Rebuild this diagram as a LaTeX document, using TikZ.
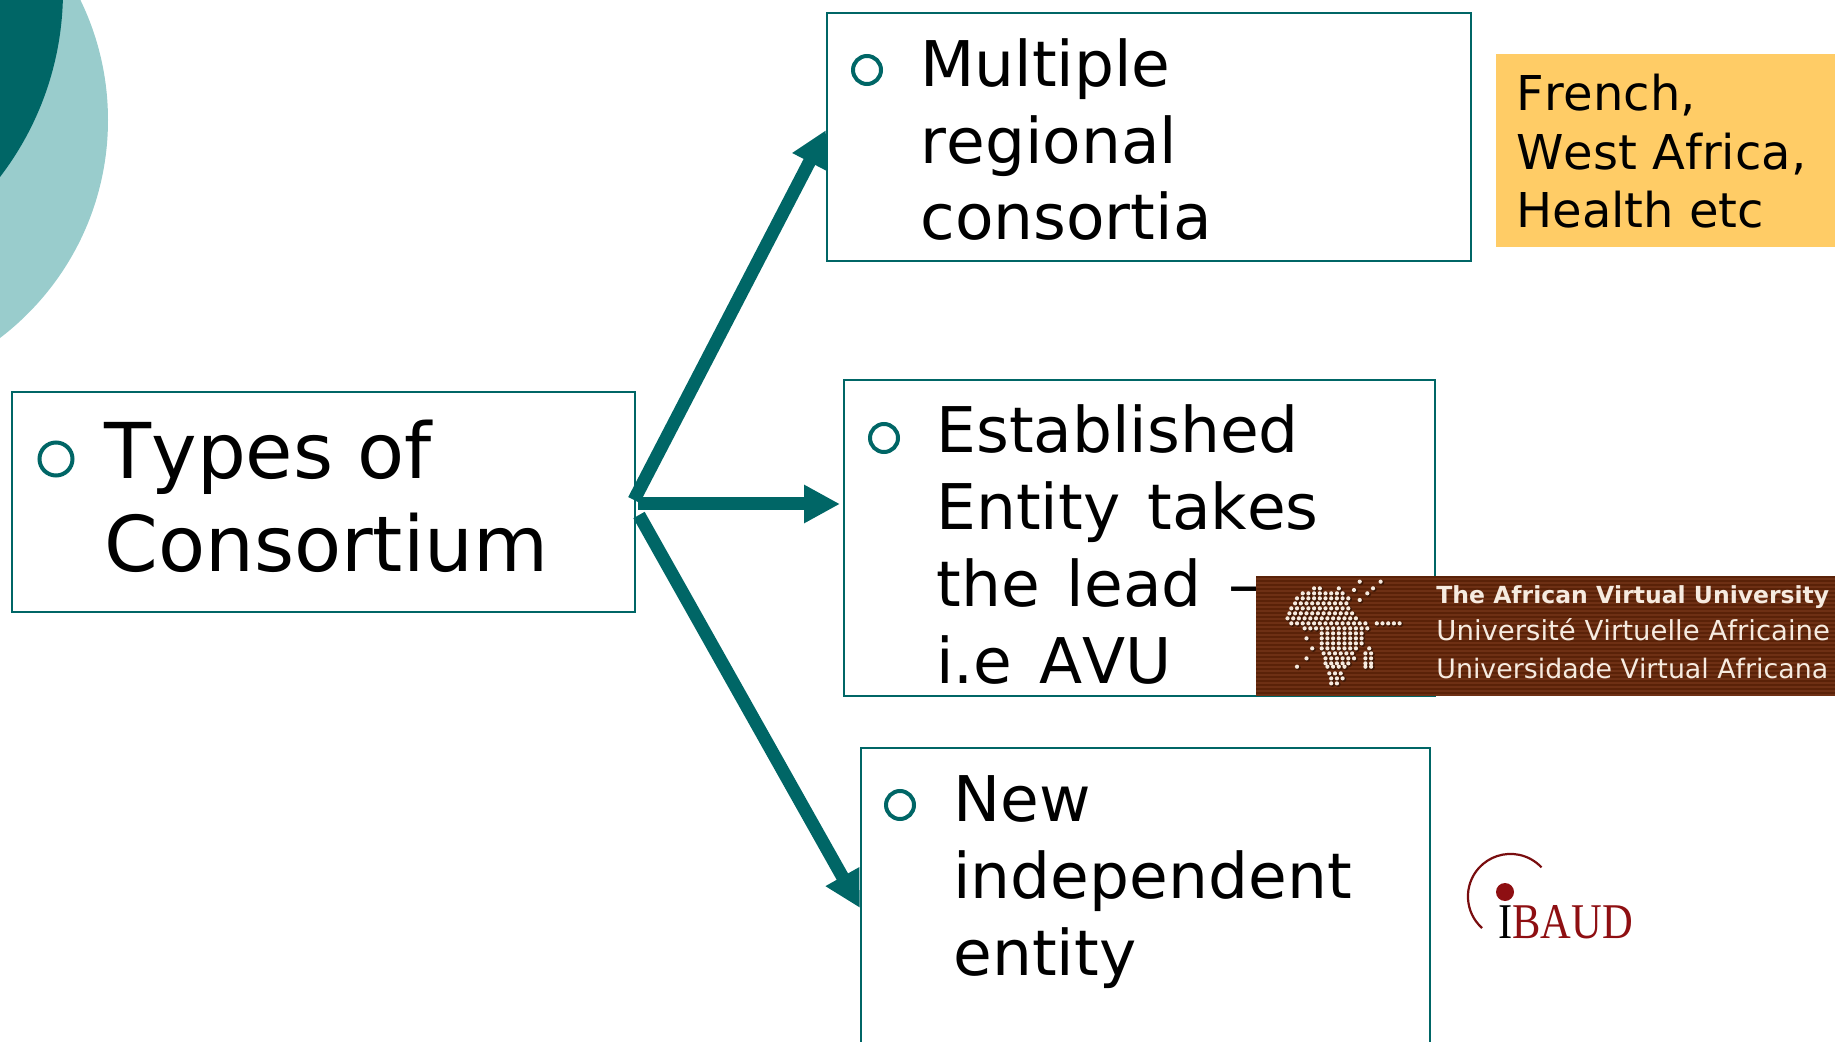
\documentclass[tikz,border=0pt]{standalone}
\usepackage{fontspec}
\setmainfont[Kerning=Off]{DejaVu Sans}
\newfontfamily\widespaced[Kerning=Off,WordSpace=1.35]{DejaVu Sans}
\newfontfamily\timesf{Liberation Serif}
\usetikzlibrary{arrows.meta}
\definecolor{tealdark}{HTML}{006666}
\definecolor{teallight}{HTML}{99CCCC}
\definecolor{yellowbox}{HTML}{FFCC66}
\definecolor{avubase}{HTML}{6E3014}
\definecolor{avustripe}{HTML}{5A2208}
\definecolor{avutext}{HTML}{F6EBE0}
\definecolor{ibred}{HTML}{8E0F12}
\tikzset{
  framebox/.style={draw=tealdark,line width=1pt,fill=white,inner sep=0pt,anchor=north west},
  bullet/.style={draw=tealdark,line width=2pt,fill=white,circle,inner sep=0pt,minimum size=#1},
  bigtext/.style={anchor=base west,inner sep=0pt,align=left,font=\fontsize{38.5}{46.5}\selectfont},
  midtext/.style={anchor=base west,inner sep=0pt,align=left,font=\fontsize{31.5}{38.4}\selectfont},
  smalltext/.style={anchor=base west,inner sep=0pt,align=left,font=\fontsize{24}{29.25}\selectfont},
  logotext/.style={anchor=base west,inner sep=0pt,text=avutext,font=\fontsize{13.76}{16}\selectfont},
  conn/.style={draw=tealdark,line width=6.5pt,-{Triangle[length=18pt,width=18pt]}}
}
\begin{document}
\begin{tikzpicture}[x=0.5pt,y=-0.5pt]
\useasboundingbox (0,0) rectangle (1835,1042);
\clip (0,0) rectangle (1835,1042);
% decorative circles
\fill[teallight] (-166,120) circle[radius=274];
\fill[tealdark] (-243,-9) circle[radius=306];
% boxes
\node[framebox,minimum width=311.5pt,minimum height=110pt] (types) at (11,391) {};
\node[framebox,minimum width=322pt,minimum height=124pt] (multi) at (826,12) {};
\node[framebox,minimum width=295.5pt,minimum height=158pt] (estab) at (843,379) {};
\node[framebox,minimum width=284.5pt,minimum height=160pt] (newent) at (860,747) {};
% bullets
\node[bullet=16.5pt] (b1) at (56,459) {};
\node[bullet=14pt] (b2) at (867,70) {};
\node[bullet=14pt] (b3) at (884,438) {};
\node[bullet=14pt] (b4) at (900,805) {};
% texts
\node[bigtext] (t1) at (104,571) {Types of\\Consortium};
\node[midtext] (t2) at (920,240) {Multiple\\regional\\consortia};
\node[midtext,font=\widespaced\fontsize{31.5}{38.4}\selectfont] (t3) at (936,683) {Established\\Entity takes\\the lead –\\i.e AVU};
\node[midtext] (t4) at (953,975) {New\\independent\\entity};
% connectors
\coordinate (upstart) at (634,500);
\coordinate (uptip) at (826,130);
\coordinate (midstart) at (638,504);
\coordinate (midend) at (840,504);
\coordinate (downstart) at (639,515);
\draw[conn] (upstart) -- (uptip);
\draw[conn] (midstart) -- (midend);
\draw[conn] (downstart) -- (newent.west);
% yellow note
\node[anchor=north west,fill=yellowbox,inner sep=0pt,minimum width=172pt,minimum height=96.5pt] (note) at (1496,54) {};
\node[smalltext] (notetext) at (1516,228) {French,\\West Africa,\\Health etc};
% AVU logo
\node[anchor=north west,fill=avubase,inner sep=0pt,minimum width=292pt,minimum height=60pt] (avu) at (1256,576) {};
\foreach \s in {0,...,29} \fill[avustripe] (1256,576+4*\s) rectangle (1840,578+4*\s);
\begin{scope}[shift={(1240,560)},x=0.19pt,y=-0.1667pt]
  \foreach \y/\a/\n in {85/195/1,85/260/0,100/165/7,115/150/9,130/145/9,145/135/10,160/130/11,175/125/12,190/135/13,190/360/4,205/170/11,220/215/7,235/175/0,235/215/7,250/215/7,265/190/0,265/215/6,265/340/0,280/220/5,280/330/1,295/175/0,295/225/5,295/330/1,310/225/4,310/330/1,320/150/0,320/230/3,320/330/1,340/235/2,355/240/2,370/240/1,65/315/0,65/370/0,85/350/0,90/300/0,100/335/0,120/315/0}
    \foreach \x in {0,...,\n} {
      \fill[avustripe!70!black] (\a+15*\x+3,\y+3) circle[radius=1.3pt];
      \fill[avutext] (\a+15*\x,\y) circle[radius=1.05pt];
    };
\end{scope}
\node[logotext,font=\fontsize{11.75}{14}\selectfont\bfseries] (av1) at (1436,603) {The African Virtual University};
\node[logotext] (av2) at (1436,640) {Université Virtuelle Africaine};
\node[logotext,font=\fontsize{13.4}{16}\selectfont] (av3) at (1436,678) {Universidade Virtual Africana};
% IBAUD logo
\draw[ibred!85!black,line width=1.1pt] (1482,928) arc[start angle=132,end angle=317,radius=42.5];
\fill[ibred] (1505,892) circle[radius=9];
\node[anchor=base west,inner sep=0pt,xscale=0.85,font=\timesf\fontsize{25}{25}\selectfont] (ibaud) at (1498,938) {I\textcolor{ibred}{BAUD}};
\end{tikzpicture}
\end{document}
